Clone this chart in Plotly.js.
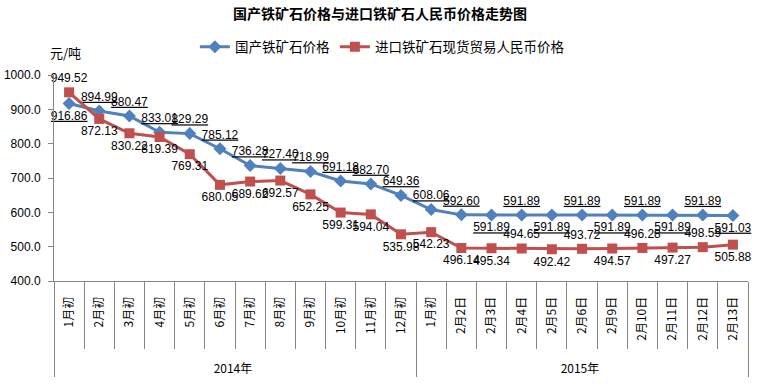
<!DOCTYPE html>
<html>
<head>
<meta charset="utf-8">
<script src="https://cdn.plot.ly/plotly-3.0.1.min.js"></script>
<style>html,body{margin:0;padding:0;background:#fff;}#chart{width:763px;height:388px;}</style>
</head>
<body>
<div id="chart"></div>
<script>
// ---- data ----
const years = ['2014年','2014年','2014年','2014年','2014年','2014年','2014年','2014年','2014年','2014年','2014年','2014年',
               '2015年','2015年','2015年','2015年','2015年','2015年','2015年','2015年','2015年','2015年','2015年'];
const periods = ['1月初','2月初','3月初','4月初','5月初','6月初','7月初','8月初','9月初','10月初','11月初','12月初',
                 '1月初','2月2日','2月3日','2月4日','2月5日','2月6日','2月9日','2月10日','2月11日','2月12日','2月13日'];
const domesticName = '国产铁矿石价格';
const importName = '进口铁矿石现货贸易人民币价格';
const domestic = [916.86, 894.99, 880.47, 833.01, 829.29, 785.12, 736.28, 727.40, 718.99, 691.18, 682.70, 649.36,
                  608.06, 592.60, 591.89, 591.89, 591.89, 591.89, 591.89, 591.89, 591.89, 591.89, 591.03];
const imported = [949.52, 872.13, 830.22, 819.39, 769.31, 680.05, 689.62, 692.57, 652.25, 599.31, 594.04, 535.98,
                  542.23, 496.14, 495.34, 494.65, 492.42, 493.72, 494.57, 496.28, 497.27, 498.59, 505.88];

// ---- label placement (style) ----
const T = 'top center', B = 'bottom center';
const domesticPos = [B,T,T,T,T,T,T,T,T,T,T,T,T,T,B,T,B,T,B,T,B,T,B];
const importPos   = [T,B,B,B,B,B,B,B,B,B,B,B,B,B,B,T,B,T,B,T,B,T,B];

const numFont = 'Liberation Sans, Arial, sans-serif';
const cjkFont = 'Noto Sans CJK SC, sans-serif';
const axisColor = '#868686';

const traces = [
  {
    type: 'scatter', mode: 'lines+markers+text', name: domesticName,
    x: [years, periods], y: domestic,
    line: {color: '#4F81BD', width: 3},
    marker: {symbol: 'diamond', size: 10, color: '#4F81BD'},
    texttemplate: '%{y:.2f}', textposition: domesticPos,
    textfont: {family: numFont, size: 12, color: '#000', lineposition: 'under'},
    cliponaxis: false
  },
  {
    type: 'scatter', mode: 'lines+markers+text', name: importName,
    x: [years, periods], y: imported,
    line: {color: '#C0504D', width: 3},
    marker: {symbol: 'square', size: 10, color: '#C0504D'},
    texttemplate: '%{y:.2f}', textposition: importPos,
    textfont: {family: numFont, size: 12, color: '#000'},
    cliponaxis: false
  }
];

const layout = {
  width: 763, height: 388,
  margin: {l: 54, r: 15, t: 75, b: 107, autoexpand: false},
  paper_bgcolor: '#fff', plot_bgcolor: '#fff',
  title: {
    text: '<b>国产铁矿石价格与进口铁矿石人民币价格走势图</b>',
    font: {family: cjkFont, size: 14, color: '#000'},
    xref: 'container', x: 0.498, yref: 'container', y: 0.963, yanchor: 'middle'
  },
  showlegend: true,
  legend: {
    orientation: 'h', x: 0.203, xanchor: 'left', y: 1.136, yanchor: 'middle',
    font: {family: cjkFont, size: 13.5, color: '#000'},
    bgcolor: 'rgba(0,0,0,0)', traceorder: 'normal'
  },
  xaxis: {
    type: 'multicategory', automargin: false, autorange: false, range: [-0.5, 22.5],
    showline: true, linecolor: axisColor, linewidth: 1,
    ticks: 'outside', tickson: 'boundaries', ticklen: 67, tickcolor: axisColor,
    showdividers: true, dividercolor: axisColor, dividerwidth: 1,
    tickangle: -90, ticklabelstandoff: 10,
    tickprefix: '\u00a0\u00a0\u00a0\u00a0\u00a0\u00a0\u00a0',
    tickfont: {family: cjkFont, size: 12, color: '#000'},
    showgrid: false
  },
  yaxis: {
    range: [400, 1000], autorange: false, dtick: 100, tickformat: '.1f', automargin: false,
    showline: true, linecolor: axisColor, linewidth: 1, ticks: 'outside', ticklen: 5, tickcolor: axisColor,
    ticklabelstandoff: 5,
    showgrid: false, zeroline: false,
    tickfont: {family: numFont, size: 12, color: '#000'}
  },
  annotations: [{
    text: '元/吨', xref: 'paper', yref: 'paper', x: 0.016, y: 1.107,
    xanchor: 'center', yanchor: 'middle', showarrow: false,
    font: {family: cjkFont, size: 13, color: '#000'}
  }]
};

Plotly.newPlot('chart', traces, layout, {staticPlot: true, displayModeBar: false});
</script>
</body>
</html>
